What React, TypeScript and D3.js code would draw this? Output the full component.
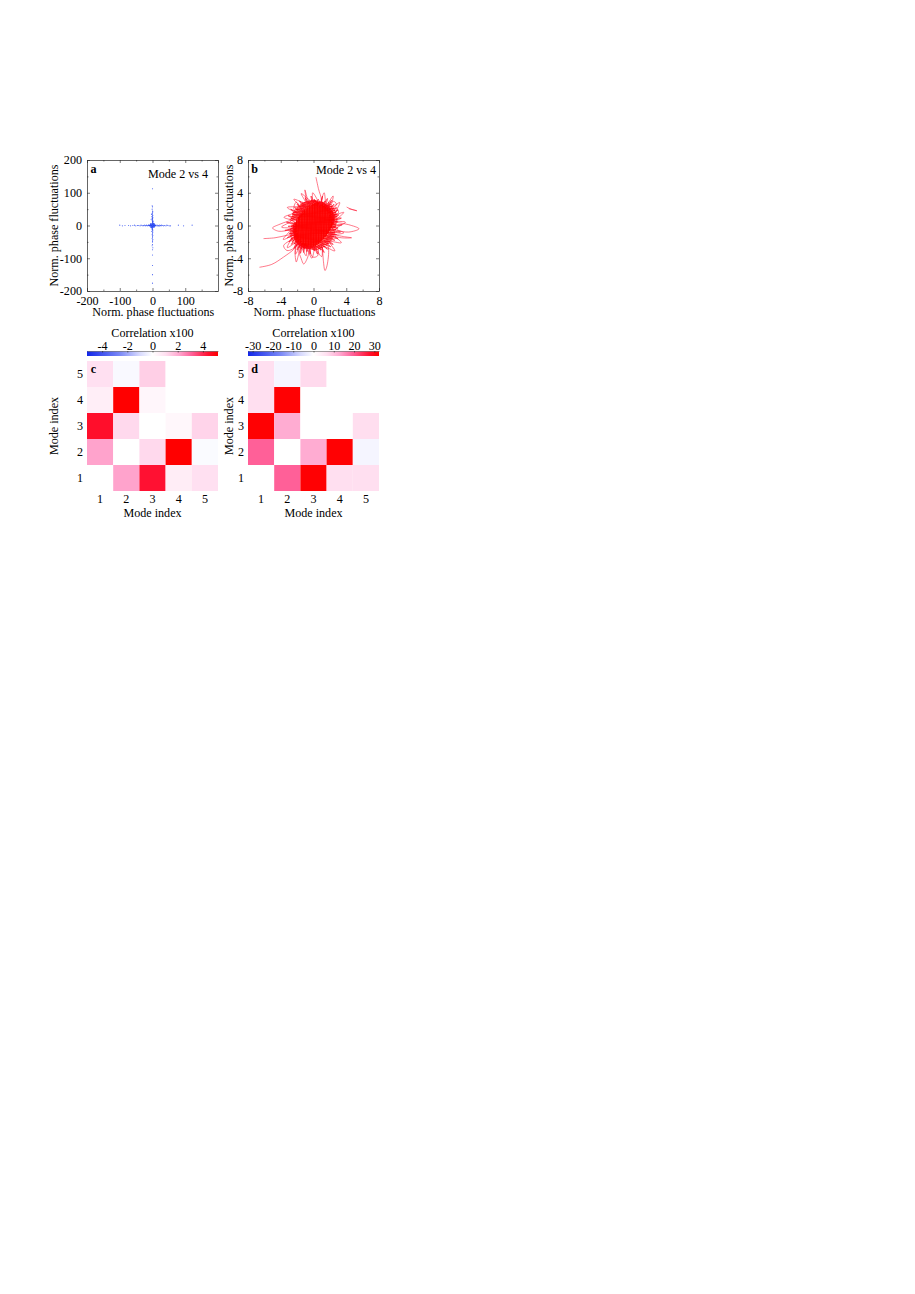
import React, { useEffect, useRef } from "react";
import * as d3 from "d3";

type Pt = [number, number];

const modeLabels = ["1", "2", "3", "4", "5"];
const phaseTicksA = [-200, -100, 0, 100];
const phaseTicksAY = [-200, -100, 0, 100, 200];
const phaseTicksB = [-8, -4, 0, 4, 8];
const barTicksC = [-4, -2, 0, 2, 4];
const barTicksD = [-30, -20, -10, 0, 10, 20, 30];

// rows run from mode 5 (top) to mode 1 (bottom)
const corrC = [
  [1.0, -0.15, 1.35, 0, 0],
  [0.55, 5.2, 0.3, 0, 0],
  [4.5, 1.15, 0, 0.25, 1.25],
  [2.15, 0, 1.15, 5.2, -0.12],
  [0, 2.15, 4.4, 0.6, 1.0],
];
const corrD = [
  [6.4, -1.6, 7, 0, 0],
  [6.4, 32, 0, 0, 0],
  [32, 12.5, 0, 0, 6.6],
  [19.4, 0, 12.5, 32, -1.6],
  [0, 19.4, 32, 6.4, 6.4],
];

// panel a, scatter of normalised fluctuations
const armHorizontal: Pt[] = [
  [-100, 1], [-92, -1], [-84, 0], [-73, 0], [-67, -1], [-60, 0], [-55, 1], [-51, -1], [-46, 0], [-42, 0],
  [-38, -1], [-35, 1], [-32, 0], [-29, -1], [-27, 0], [-24, 1], [-22, -1], [-20, 0], [-18, 1], [-16, -1],
  [-14, 0], [-12, 1], [14, 1], [16, -1], [18, 0], [20, -2], [22, 1], [24, 0], [26, -1], [28, 1], [31, 0],
  [34, -1], [37, 0], [41, -1], [44, 1], [47, 0], [51, -1], [55, -1], [79, 1], [95, -1], [121, 1],
];
const armVertical: Pt[] = [
  [0, 112], [-1, 60], [0, 57], [-1, 50], [0, 44], [1, 42], [0, 39], [-1, 37], [-3, 34], [0, 33], [1, 31], [0, 29],
  [-2, 27], [0, 26], [1, 24], [-1, 22], [0, 21], [-4, 19], [0, 18], [1, 16], [-1, 15], [0, 13], [2, 12],
  [-1, -12], [1, -14], [0, -16], [-2, -18], [1, -20], [0, -22], [0, -25], [-1, -28], [1, -30], [0, -33], [0, -36],
  [-1, -40], [1, -43], [0, -47], [0, -50], [0, -58], [-1, -62], [1, -68], [0, -74], [0, -90], [0, -122], [0, -150], [0, -176],
];
const coreCluster: Pt[] = [
  [0, 0], [2, 1], [-2, -1], [3, -2], [-3, 2], [1, 3], [-1, -3], [4, 0], [-4, 0], [0, 5], [0, -5], [5, 2], [-5, -2],
  [3, 4], [-3, -4], [4, -4], [-4, 4], [6, 0], [-6, 0], [1, 7], [-1, -7], [6, -3], [-6, 3], [2, -6], [-2, 6],
  [7, 2], [-7, -2], [8, -1], [-8, 1], [0, 8], [0, -8], [5, 5], [-5, -5], [5, -5], [-5, 5], [9, 0], [-9, 0],
  [10, 1], [-10, -1], [1, 10], [-1, -10], [11, -1], [-11, 1], [0, 11], [0, -11], [2, 2], [-2, 2], [2, -2], [-2, -2],
  [3, 0], [-3, 0], [0, 3], [0, -3], [7, -1], [-7, 1], [3, 7], [-3, -7], [4, 6], [-4, -6], [-6, 5], [6, 4],
];

// panel b, one long trace: back and forth through the cloud, then its excursions
const cloudRows: Pt[] = [
  [-0.9, -2.8], [-0.2, -2.75], [-1.3, -2.7], [0.15, -2.62], [-1.5, -2.55], [0.3, -2.5], [-1.7, -2.42], [0.42, -2.36], [-1.75, -2.3], [0.6, -2.24],
  [-1.95, -2.18], [0.72, -2.1], [-2.05, -2.02], [0.85, -1.96], [-2.15, -1.9], [1.0, -1.82], [-2.2, -1.76], [1.1, -1.68], [-2.25, -1.62], [1.2, -1.55],
  [-2.35, -1.48], [1.35, -1.42], [-2.35, -1.35], [1.45, -1.28], [-2.4, -1.22], [1.55, -1.15], [-2.42, -1.08], [1.7, -1.0], [-2.4, -0.94], [1.8, -0.88],
  [-2.5, -0.8], [1.85, -0.72], [-2.45, -0.66], [1.95, -0.6], [-2.4, -0.54], [2.05, -0.46], [-2.42, -0.4], [2.1, -0.32], [-2.35, -0.26], [2.2, -0.2],
  [-2.38, -0.12], [2.25, -0.06], [-2.3, 0.0], [2.3, 0.08], [-2.3, 0.14], [2.38, 0.2], [-2.2, 0.28], [2.42, 0.34], [-2.15, 0.4], [2.45, 0.46],
  [-2.1, 0.54], [2.5, 0.6], [-2.0, 0.68], [2.52, 0.74], [-1.9, 0.8], [2.5, 0.88], [-1.85, 0.94], [2.45, 1.0], [-1.7, 1.08], [2.48, 1.14],
  [-1.6, 1.2], [2.44, 1.28], [-1.45, 1.34], [2.4, 1.42], [-1.35, 1.48], [2.35, 1.54], [-1.2, 1.62], [2.3, 1.68], [-1.1, 1.75], [2.25, 1.82],
  [-0.95, 1.88], [2.1, 1.95], [-0.8, 2.02], [2.05, 2.08], [-0.65, 2.15], [1.9, 2.22], [-0.5, 2.28], [1.8, 2.35], [-0.35, 2.42], [1.7, 2.48],
  [-0.15, 2.55], [1.5, 2.6], [0.0, 2.68], [1.3, 2.74], [0.25, 2.8], [1.1, 2.88],
];
const cloudColumns: Pt[] = [
  [-2.5, -0.8], [-2.45, 0.1], [-2.3, -1.7], [-2.25, 0.45], [-2.15, -2.0], [-2.05, 0.8], [-2.0, -2.15], [-1.85, 1.05], [-1.8, -2.4], [-1.7, 1.3],
  [-1.6, -2.5], [-1.5, 1.55], [-1.4, -2.62], [-1.3, 1.75], [-1.2, -2.75], [-1.1, 1.95], [-1.0, -2.8], [-0.9, 2.15], [-0.8, -2.85], [-0.7, 2.3],
  [-0.6, -2.82], [-0.5, 2.45], [-0.4, -2.8], [-0.3, 2.6], [-0.2, -2.75], [-0.1, 2.72], [0.0, -2.65], [0.1, 2.8], [0.2, -2.5], [0.3, 2.9],
  [0.4, -2.35], [0.5, 2.92], [0.6, -2.2], [0.7, 2.95], [0.8, -2.05], [0.9, 2.9], [1.0, -1.85], [1.1, 2.85], [1.2, -1.65], [1.3, 2.75],
  [1.4, -1.4], [1.5, 2.65], [1.6, -1.2], [1.7, 2.5], [1.8, -0.9], [1.9, 2.3], [2.0, -0.65], [2.1, 2.1], [2.2, -0.3], [2.3, 1.8],
  [2.4, 0.1], [2.5, 1.4], [2.55, 0.6],
];
// fills the shoulders of the cloud around the edge
const cloudShoulders: Pt[] = [
  [-2.7, 0.6], [-1.6, 1.0], [-2.75, 0.85], [-1.5, 1.2], [-2.65, 1.1], [-1.4, 1.35], [-2.6, 1.3], [-1.2, 1.55], [-2.5, 1.55], [-1.1, 1.7], [-2.35, 1.75], [-1.0, 1.85],
  [-2.2, 1.95], [-0.85, 2.0], [-2.05, 2.15], [-0.7, 2.15], [-1.85, 2.35], [-0.55, 2.3], [-1.65, 2.5], [-0.4, 2.45], [-1.45, 2.65], [-0.25, 2.6], [-1.2, 2.8], [-0.1, 2.7],
  [-0.9, 2.9], [0.1, 2.8], [-0.6, 3.0], [0.3, 2.9], [-0.3, 3.05], [0.5, 2.95], [0.0, 3.1], [1.2, 2.3],
  [2.1, 2.55], [1.2, 2.3], [2.3, 2.35], [1.4, 2.1], [2.5, 2.1], [1.6, 1.9], [2.65, 1.85], [1.8, 1.6], [2.75, 1.6], [1.9, 1.2],
  [2.85, 1.4], [1.9, 1.0], [2.9, 1.1], [2.0, 0.7], [2.9, 0.8], [2.1, 0.4], [2.85, 0.5], [2.1, 0.1], [2.8, 0.2], [2.0, -0.1], [2.75, -0.05], [1.9, -0.3],
  [2.7, -0.2], [1.8, -0.6], [2.75, -0.5], [1.7, -0.85], [2.65, -0.8], [1.5, -1.0], [2.6, -1.05], [1.4, -1.25], [2.5, -1.3], [1.3, -1.4], [2.35, -1.55], [1.15, -1.6],
  [2.2, -1.8], [1.0, -1.75], [2.05, -2.0], [0.85, -1.9], [1.85, -2.2], [0.7, -2.05], [1.65, -2.4], [0.55, -2.2], [1.4, -2.6], [0.4, -2.35], [1.15, -2.75], [0.2, -2.5],
  [0.85, -2.85], [0.0, -2.6], [0.5, -2.95], [-0.2, -2.7], [0.2, -3.0], [-0.5, -2.8], [-0.8, -2.4],
  [-1.2, -2.9], [-1.0, -2.2], [-1.5, -2.85], [-1.3, -2.1], [-1.8, -2.7], [-1.5, -1.9], [-2.1, -2.5], [-1.7, -1.7], [-2.35, -2.25], [-1.9, -1.5], [-2.6, -1.95], [-2.0, -1.3],
  [-2.75, -1.65], [-2.0, -1.1], [-2.85, -1.3], [-1.9, -1.0], [-2.85, -1.0], [-2.0, -0.7], [-2.85, -0.7], [-2.1, -0.4], [-2.8, -0.4], [-2.1, -0.1], [-2.75, -0.1], [-2.1, 0.2], [-2.7, 0.3],
];
const cloudFringe: Pt[] = [
  [0.4, 2.8], [0.6, 3.2], [0.8, 2.5], [1.1, 3.6], [1.0, 2.6], [1.4, 3.0], [1.2, 2.4], [1.7, 3.3], [1.5, 2.3], [1.9, 2.9], [1.6, 2.1], [2.2, 3.1],
  [1.8, 1.9], [2.5, 2.6], [2.0, 1.8], [2.8, 2.2], [2.2, 1.5], [3.0, 1.9], [2.2, 1.2], [3.1, 1.3], [2.3, 0.9], [3.4, 0.9], [2.3, 0.5], [3.0, 0.5],
  [2.4, 0.1], [3.5, 0.1], [2.2, -0.2], [3.0, -0.3], [2.1, -0.6], [3.3, -0.8], [2.0, -0.9], [2.8, -1.1], [1.8, -1.1], [3.0, -1.6], [1.7, -1.4], [2.6, -1.8],
  [1.5, -1.6], [2.4, -2.3], [1.3, -1.9], [2.1, -2.6], [1.0, -2.1], [1.7, -2.9], [0.9, -2.3], [1.3, -3.3], [0.6, -2.4], [0.9, -3.0], [0.3, -2.5], [0.5, -3.5],
  [0.0, -2.5], [0.1, -3.1], [-0.3, -2.6], [-0.4, -3.5], [-0.6, -2.6], [-0.8, -3.2], [-1.0, -2.5], [-1.2, -3.3], [-1.3, -2.4], [-1.6, -3.4], [-1.6, -2.2], [-2.0, -3.0],
  [-1.8, -2.0], [-2.4, -2.8], [-2.0, -1.8], [-2.7, -2.3], [-2.2, -1.5], [-3.0, -2.0], [-2.3, -1.2], [-3.2, -1.5], [-2.4, -0.9], [-3.0, -1.0], [-2.4, -0.6], [-3.5, -0.6],
  [-2.3, -0.3], [-3.1, -0.1], [-2.2, 0.0], [-3.3, 0.4], [-2.2, 0.3], [-2.9, 0.8], [-2.0, 0.6], [-3.1, 1.2], [-1.9, 0.9], [-2.6, 1.5], [-1.7, 1.2], [-2.8, 2.0],
  [-1.5, 1.4], [-2.3, 2.2], [-1.3, 1.7], [-2.0, 2.6], [-1.1, 1.9], [-1.7, 3.0], [-0.9, 2.1], [-1.4, 2.8], [-0.7, 2.3], [-1.0, 3.4], [-0.5, 2.5], [-0.7, 3.0],
  [-0.2, 2.6], [-0.3, 3.6], [0.1, 2.7], [0.1, 3.2], [0.4, 2.8],
];
const cloudSpikes: Pt[] = [
  [0.9, 2.8], [1.3, 4.0], [1.6, 2.6], [2.4, 3.6], [2.2, 2.2], [3.2, 2.8], [2.7, 1.4], [3.7, 1.6], [2.8, 0.6], [3.9, 0.4], [2.8, -0.4], [3.7, -0.9],
  [2.6, -1.2], [3.4, -2.1], [2.0, -2.0], [2.6, -3.1], [1.2, -2.6], [1.0, -3.8], [0.2, -2.9], [-0.2, -4.0], [-0.8, -2.8], [-0.9, -3.7], [-1.6, -2.6], [-2.2, -3.5],
  [-2.2, -2.2], [-3.2, -2.7], [-2.7, -1.4], [-3.7, -1.7], [-2.8, -0.4], [-3.9, -0.2], [-2.7, 0.6], [-3.6, 1.0], [-2.4, 1.6], [-3.2, 2.2], [-1.8, 2.4], [-2.4, 3.2],
  [-1.0, 2.8], [-1.5, 3.9], [-0.2, 3.0], [-0.1, 4.0], [0.6, 2.9],
];
const excursions: Pt[][] = [
  [[-6.6, -5.1], [-5.1, -4.75], [-3.65, -3.85], [-2.45, -2.95], [-1.8, -2.2]],
  [[-6.1, -1.6], [-4.7, -1.5], [-3.25, -1.2], [-2.2, -1.0]],
  [[-2.2, 0.7], [-3.0, 0.55], [-4.25, 0.1], [-5, -0.3], [-4.25, -0.7], [-2.85, -0.5], [-2.2, -0.2]],
  [[0.3, 5.9], [0.6, 4.5], [0.95, 3.05], [0.5, 2.2]],
  [[-1.4, 2.0], [-0.95, 3.05], [-1.05, 4.35], [-0.75, 3.3], [-0.4, 2.4]],
  [[4.05, 2.25], [4.6, 2.0], [5.3, 1.8], [4.7, 1.95], [4.3, 2.05]],
  [[2.2, 0.5], [3.0, 0.35], [4.3, 0.1], [5.55, -0.4], [4.3, -0.8], [2.85, -0.6], [2.0, -0.4]],
  [[1.9, -1.0], [3.65, -1.35], [4.65, -1.5], [3.4, -1.5], [2.0, -1.2]],
  [[0.9, -2.2], [1.1, -3.05], [1.2, -4.25], [1.4, -5.5], [1.6, -5.1], [1.85, -3.05], [1.6, -1.8]],
  [[-1.6, -2.2], [-1.8, -3.05], [-1.5, -4.05], [-1.2, -4.7], [-0.7, -3.85], [-0.5, -2.6]],
  [[-2.0, -2.0], [-2.25, -3.05], [-2.1, -4.45], [-1.8, -3.45], [-1.5, -2.5]],
  [[-2.4, -1.6], [-3.65, -2.45], [-3.25, -3.05], [-2.6, -2.9], [-1.9, -2.3]],
  [[-0.6, -2.4], [-0.1, -3.85], [0.5, -3.7], [0.6, -2.5]],
  [[2.0, 1.8], [2.85, 2.05], [3.05, 1.55], [2.3, 1.1]],
  [[1.7, 2.4], [2.45, 2.95], [2.8, 2.6], [2.2, 1.9]],
  [[-1.4, 1.9], [-2.1, 2.85], [-2.4, 2.0], [-1.8, 1.3]],
];

const serif = "'Liberation Serif', 'Times New Roman', serif";
const fontSize = 12.1;

// tick labels keep a plain hyphen
const hyphenFormat = (d: any) => String(d);

// same ramp for both colour bars, t runs from -1 to 1
const corrRamp = d3
  .scaleLinear<string>()
  .domain([-1, -0.5, -0.2, 0, 0.2, 0.4, 0.6, 0.85, 1])
  .range(["#1226e8", "#7a88f6", "#d6d8fd", "#ffffff", "#ffdff0", "#ffa8d0", "#ff6098", "#ff1030", "#ff0000"])
  .clamp(true);

const App = () => {
  const svgRef = useRef<SVGSVGElement>(null);

  useEffect(() => {
    const svg = d3.select(svgRef.current);
    svg.selectAll("*").remove();
    svg.attr("font-family", serif).attr("font-size", fontSize);

    const label = (x: number, y: number, text: string, opts: any = {}) =>
      svg
        .append("text")
        .attr("transform", `translate(${x},${y})${opts.rotate ? " rotate(-90)" : ""}`)
        .attr("text-anchor", opts.anchor || "middle")
        .attr("dy", "0.35em")
        .attr("font-weight", opts.bold ? "bold" : "normal")
        .attr("fill", "#000")
        .text(text);

    const styleAxis = (g: any) => {
      g.attr("font-family", serif).attr("font-size", fontSize);
      g.selectAll("path").attr("stroke", "#222").attr("stroke-width", 0.7);
      g.selectAll("line").attr("stroke", "#222").attr("stroke-width", 0.6);
      g.selectAll("text").attr("fill", "#000");
    };

    // framed plot with inward ticks on all four sides
    const drawFrame = (
      left: number,
      domain: [number, number],
      major: number[],
      majorY: number[],
      minor: number[],
    ) => {
      const x = d3.scaleLinear().domain(domain).range([left, left + 131]);
      const y = d3.scaleLinear().domain(domain).range([291, 160]);
      const sides = [
        { gen: d3.axisBottom(x), at: `translate(0,291)`, vals: major, labelled: true },
        { gen: d3.axisLeft(y), at: `translate(${left},0)`, vals: majorY, labelled: true },
        { gen: d3.axisTop(x), at: `translate(0,160)`, vals: majorY, labelled: false },
        { gen: d3.axisRight(y), at: `translate(${left + 131},0)`, vals: majorY, labelled: false },
      ];
      sides.forEach((s) => {
        const g = svg.append("g").attr("transform", s.at);
        g.call(
          s.gen
            .tickValues(s.vals)
            .tickSizeInner(-3)
            .tickSizeOuter(0)
            .tickPadding(5)
            .tickFormat(s.labelled ? hyphenFormat : () => ""),
        );
        styleAxis(g);
        const gm = svg.append("g").attr("transform", s.at);
        gm.call(s.gen.tickValues(minor).tickSizeInner(-1.5).tickFormat(() => ""));
        styleAxis(gm);
        gm.select("path").remove();
      });
      return { x, y };
    };

    // panel a
    const a = drawFrame(87, [-200, 200], phaseTicksA, phaseTicksAY, [-150, -50, 50, 150]);
    [armHorizontal, armVertical, coreCluster].forEach((pts) => {
      svg
        .append("g")
        .selectAll("circle")
        .data(pts)
        .join("circle")
        .attr("cx", (d) => a.x(d[0]))
        .attr("cy", (d) => a.y(d[1]))
        .attr("r", 0.55)
        .attr("fill", "#1c3cf0")
        .attr("fill-opacity", 0.8);
    });
    label(93.5, 168.5, "a", { bold: true });
    label(178, 174, "Mode 2 vs 4");
    label(153.3, 312, "Norm. phase fluctuations");
    label(54, 225.5, "Norm. phase fluctuations", { rotate: true });

    // panel b
    const b = drawFrame(248, [-8, 8], phaseTicksB, phaseTicksB, [-6, -2, 2, 6]);
    const straight = d3.line<Pt>().x((d) => b.x(d[0])).y((d) => b.y(d[1]));
    const curved = d3
      .line<Pt>()
      .x((d) => b.x(d[0]))
      .y((d) => b.y(d[1]))
      .curve(d3.curveCatmullRom.alpha(0.5));
    [cloudRows, cloudColumns, cloudShoulders].forEach((pts) => {
      svg.append("path").attr("d", straight(pts)).attr("fill", "none").attr("stroke", "#ff0000").attr("stroke-width", 0.8);
    });
    svg.append("path").attr("d", curved(cloudFringe)).attr("fill", "none").attr("stroke", "#ff0a20").attr("stroke-width", 0.7);
    [cloudSpikes, ...excursions].forEach((pts) => {
      svg.append("path").attr("d", curved(pts)).attr("fill", "none").attr("stroke", "#ff0a28").attr("stroke-width", 0.55);
    });
    label(254.5, 168.5, "b", { bold: true });
    label(346, 170, "Mode 2 vs 4");
    label(314.5, 312, "Norm. phase fluctuations");
    label(228.5, 225.5, "Norm. phase fluctuations", { rotate: true });

    // panels c and d
    const drawMatrix = (
      left: number,
      rows: number[][],
      limit: number,
      barTicks: number[],
      letter: string,
      gradId: string,
      titleX: number,
    ) => {
      const x = d3.scaleBand().domain(modeLabels).range([left, left + 131]);
      const y = d3.scaleBand().domain([...modeLabels].reverse()).range([361, 491]);
      const color = (v: number) => corrRamp(v / limit);

      rows.forEach((row, r) => {
        row.forEach((v, c) => {
          svg
            .append("rect")
            .attr("x", x(modeLabels[c])!)
            .attr("y", y(modeLabels[4 - r])!)
            .attr("width", x.bandwidth())
            .attr("height", y.bandwidth())
            .attr("fill", color(v));
        });
      });

      const gradient = svg
        .append("defs")
        .append("linearGradient")
        .attr("id", gradId);
      d3.range(-1, 1.001, 0.05).forEach((t) => {
        gradient
          .append("stop")
          .attr("offset", `${((t + 1) / 2) * 100}%`)
          .attr("stop-color", corrRamp(t));
      });
      svg
        .append("rect")
        .attr("x", left)
        .attr("y", 351)
        .attr("width", 131)
        .attr("height", 5)
        .attr("fill", `url(#${gradId})`);

      const barScale = d3.scaleLinear().domain([-limit, limit]).range([left, left + 131]);
      const barAxis = svg.append("g").attr("transform", "translate(0,351)");
      barAxis.call(d3.axisTop(barScale).tickValues(barTicks).tickSizeInner(-1.5).tickSizeOuter(0).tickPadding(1.5).tickFormat(hyphenFormat));
      styleAxis(barAxis);
      barAxis.select("path").attr("stroke", "#777");

      const xAxis = svg.append("g").attr("transform", "translate(0,491)");
      xAxis.call(d3.axisBottom(x).tickSize(0).tickPadding(3));
      styleAxis(xAxis);
      xAxis.select("path").remove();
      const yAxis = svg.append("g").attr("transform", `translate(${left},0)`);
      yAxis.call(d3.axisLeft(y).tickSize(0).tickPadding(4));
      styleAxis(yAxis);
      yAxis.select("path").remove();

      label(left + 65.5, 332.5, "Correlation x100");
      label(left + 65.5, 512.5, "Mode index");
      label(titleX, 426, "Mode index", { rotate: true });
      label(left + 6.5, 369, letter, { bold: true });
    };

    drawMatrix(87, corrC, 5.2, barTicksC, "c", "barC", 54);
    drawMatrix(248, corrD, 32.3, barTicksD, "d", "barD", 229);
  }, []);

  return <svg ref={svgRef} width={915} height={1294} style={{ position: "absolute", left: 0, top: 0 }} />;
};

export default App;
